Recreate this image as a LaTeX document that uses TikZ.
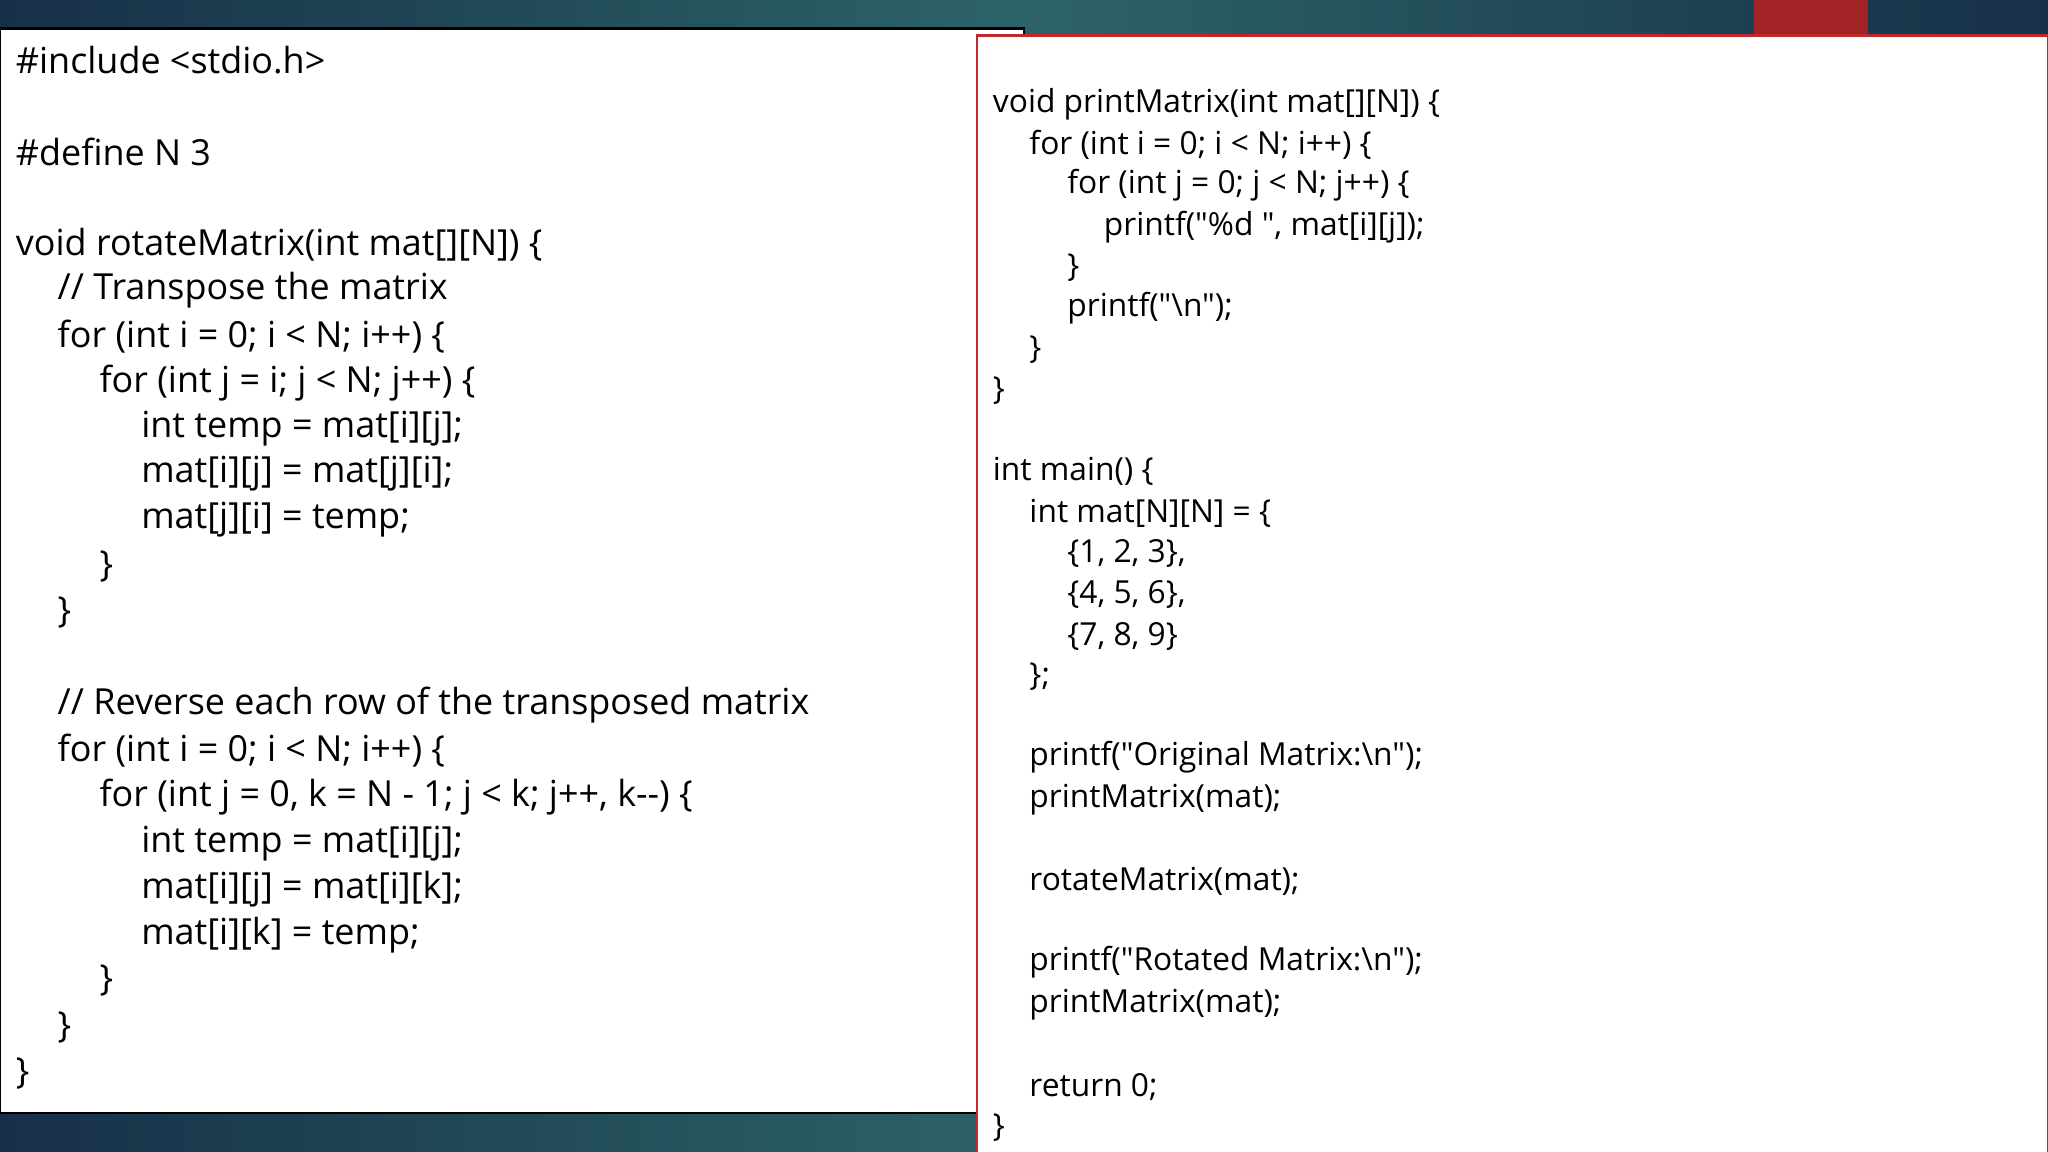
\documentclass[tikz,border=0pt]{standalone}
\usepackage{fontspec}
\setmainfont{Open Sans}[Ligatures=TeXOff]
\definecolor{bgdark}{HTML}{173048}
\definecolor{bgteal}{HTML}{2C6468}
\definecolor{boxred}{HTML}{C0282C}
\newcommand{\qq}{"}
\begin{document}
\begin{tikzpicture}[x=1pt,y=-1pt,
  lt/.style={anchor=west,inner sep=0pt,font=\fontsize{27.5}{30}\selectfont},
  rt/.style={anchor=west,inner sep=0pt,font=\fontsize{24.3}{27}\selectfont}]
\useasboundingbox (0,0) rectangle (1568,882);
\shade[left color=bgdark, right color=bgteal] (0,0) rectangle (784,882);
\shade[left color=bgteal, right color=bgdark] (784,0) rectangle (1568,882);
\fill[boxred!85!black] (1343,0) rectangle (1430,27);
\draw[line width=2pt,fill=white] (0,22) rectangle (784,852);
\draw[line width=2pt,draw=boxred,fill=white] (748,27) rectangle (1568,884);
% left
\node[lt] (l1) at (12,46) {\#include <stdio.h>};
\node[lt] (l2) at (12,116) {\#define N 3};
\node[lt] (l3) at (12,187) {void rotateMatrix(int mat[][N]) \{};
\node[lt] (l4) at (44,222) {// Transpose the matrix};
\node[lt] (l5) at (44,258) {for (int i = 0; i < N; i++) \{};
\node[lt] (l6) at (76,293) {for (int j = i; j < N; j++) \{};
\node[lt] (l7) at (108,328) {int temp = mat[i][j];};
\node[lt] (l8) at (108,363) {mat[i][j] = mat[j][i];};
\node[lt] (l9) at (108,398) {mat[j][i] = temp;};
\node[lt] (l10) at (76,434) {\}};
\node[lt] (l11) at (44,469) {\}};
\node[lt] (l12) at (44,540) {// Reverse each row of the transposed matrix};
\node[lt] (l13) at (44,575) {for (int i = 0; i < N; i++) \{};
\node[lt] (l14) at (76,610) {for (int j = 0, k = N - 1; j < k; j++, k-{}-) \{};
\node[lt] (l15) at (108,646) {int temp = mat[i][j];};
\node[lt] (l16) at (108,681) {mat[i][j] = mat[i][k];};
\node[lt] (l17) at (108,716) {mat[i][k] = temp;};
\node[lt] (l18) at (76,751) {\}};
\node[lt] (l19) at (44,787) {\}};
\node[lt] (l20) at (12,822) {\}};
% right
\node[rt] (r1) at (760,80) {void printMatrix(int mat[][N]) \{};
\node[rt] (r2) at (788,111) {for (int i = 0; i < N; i++) \{};
\node[rt] (r3) at (817,142) {for (int j = 0; j < N; j++) \{};
\node[rt] (r4) at (845,174) {printf(\qq\%d \qq, mat[i][j]);};
\node[rt] (r5) at (817,205) {\}};
\node[rt] (r6) at (817,236) {printf(\qq\textbackslash n\qq);};
\node[rt] (r7) at (788,268) {\}};
\node[rt] (r8) at (760,299) {\}};
\node[rt] (r9) at (760,361) {int main() \{};
\node[rt] (r10) at (788,393) {int mat[N][N] = \{};
\node[rt] (r11) at (817,424) {\{1, 2, 3\},};
\node[rt] (r12) at (817,455) {\{4, 5, 6\},};
\node[rt] (r13) at (817,487) {\{7, 8, 9\}};
\node[rt] (r14) at (788,518) {\};};
\node[rt] (r15) at (788,580) {printf(\qq Original Matrix:\textbackslash n\qq);};
\node[rt] (r16) at (788,612) {printMatrix(mat);};
\node[rt] (r17) at (788,675) {rotateMatrix(mat);};
\node[rt] (r18) at (788,737) {printf(\qq Rotated Matrix:\textbackslash n\qq);};
\node[rt] (r19) at (788,769) {printMatrix(mat);};
\node[rt] (r20) at (788,832) {return 0;};
\node[rt] (r21) at (760,863) {\}};
\end{tikzpicture}
\end{document}
